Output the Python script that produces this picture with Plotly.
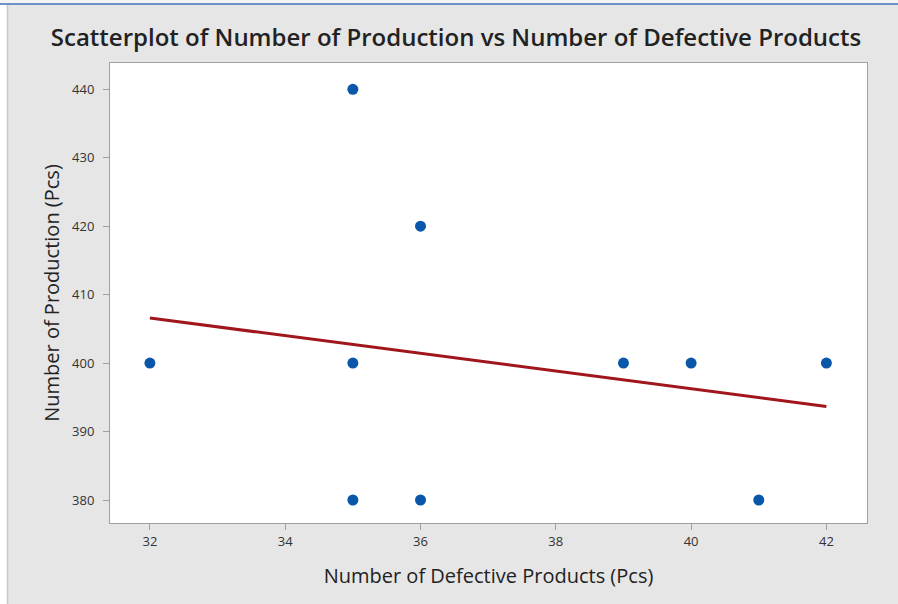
import numpy as np
import plotly.graph_objects as go

# Data
defective = [32, 35, 35, 35, 36, 36, 39, 40, 41, 42]
production = [400, 440, 400, 380, 420, 380, 400, 400, 380, 400]
x_ticks = [32, 34, 36, 38, 40, 42]
y_ticks = [380, 390, 400, 410, 420, 430, 440]

W, H = 898, 604
L, R, T, B = 110, 31, 63, 81
pw, ph = W - L - R, H - T - B

def px(x):
    return (x - L) / pw

def py(y):
    return (H - B - y) / ph

slope, intercept = np.polyfit(defective, production, 1)
fx = [min(defective), max(defective)]
fy = [slope * v + intercept for v in fx]

font = "Open Sans, Noto Sans, DejaVu Sans, sans-serif"

fig = go.Figure()
fig.add_trace(go.Scatter(x=fx, y=fy, mode="lines",
                         line=dict(color="#a0161c", width=3),
                         hoverinfo="skip", showlegend=False))
fig.add_trace(go.Scatter(x=defective, y=production, mode="markers",
                         marker=dict(color="#0a56a8", size=11),
                         showlegend=False))

shapes = [
    dict(type="rect", xref="paper", yref="paper", x0=px(0), x1=px(7), y0=py(H), y1=py(0),
         fillcolor="#ffffff", line=dict(width=0), layer="below"),
    dict(type="line", xref="paper", yref="paper", x0=px(7.5), x1=px(7.5), y0=py(H), y1=py(5),
         line=dict(color="#c8c8c8", width=1.5)),
    dict(type="rect", xref="paper", yref="paper", x0=px(0), x1=px(W), y0=py(3), y1=py(0),
         fillcolor="#f4f4f4", line=dict(width=0), layer="below"),
    dict(type="line", xref="paper", yref="paper", x0=px(0), x1=px(W), y0=py(4), y1=py(4),
         line=dict(color="#6b93c9", width=2)),
]

fig.update_layout(
    width=W, height=H,
    margin=dict(l=L, r=R, t=T, b=B),
    paper_bgcolor="#e6e6e6",
    plot_bgcolor="#ffffff",
    font=dict(family=font, color="#333333"),
    title=dict(text="Scatterplot of Number of Production vs Number of Defective Products",
               x=456 / W, xanchor="center", y=1 - 38 / H, yanchor="middle",
               font=dict(family=font, size=24, color="#222222", weight=600)),
    shapes=shapes,
    xaxis=dict(
        range=[31.41, 42.6], tickvals=x_ticks, ticktext=[str(v) for v in x_ticks],
        showgrid=False, zeroline=False, showline=True, linecolor="#a0a0a0", linewidth=1,
        mirror=True, ticks="outside", ticklen=6, tickcolor="#a0a0a0",
        tickfont=dict(size=13, color="#333333"),
        title=dict(text="Number of Defective Products (Pcs)", standoff=20,
                   font=dict(size=20, color="#222222")),
    ),
    yaxis=dict(
        range=[376.64, 443.84], tickvals=y_ticks, ticktext=[str(v) for v in y_ticks],
        showgrid=False, zeroline=False, showline=True, linecolor="#a0a0a0", linewidth=1,
        mirror=True, ticks="outside", ticklen=6, tickcolor="#a0a0a0",
        tickfont=dict(size=13, color="#333333"), ticklabelstandoff=6,
        title=dict(text="Number of Production (Pcs)", standoff=7,
                   font=dict(size=20, color="#222222")),
    ),
)

fig.write_html("out.html", config={"displayModeBar": False},
               post_script="document.body.style.margin='0';")
